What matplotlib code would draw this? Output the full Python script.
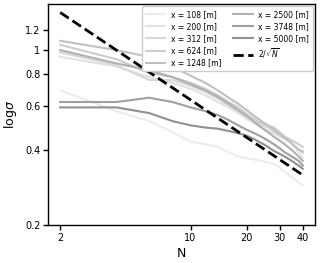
import numpy as np
import matplotlib
matplotlib.use("Agg")
import matplotlib.pyplot as plt
from matplotlib.ticker import FixedLocator, FixedFormatter, NullLocator

# number of samples N
N = [2, 4, 6, 8, 10, 12, 14, 16, 18, 20, 22, 24, 26, 28, 30, 32, 34, 36, 38, 40]

distances = [108, 200, 312, 624, 1248, 2500, 3748, 5000]

sig_108 = [0.69, 0.57, 0.52, 0.47, 0.43, 0.42, 0.41, 0.39, 0.375, 0.37,
           0.365, 0.36, 0.355, 0.35, 0.34, 0.325, 0.315, 0.305, 0.295, 0.288]
sig_200 = [0.94, 0.86, 0.78, 0.74, 0.70, 0.66, 0.62, 0.59, 0.56, 0.53,
           0.51, 0.49, 0.475, 0.465, 0.45, 0.44, 0.43, 0.41, 0.39, 0.37]
sig_312 = [0.98, 0.87, 0.76, 0.76, 0.72, 0.68, 0.64, 0.60, 0.57, 0.54,
           0.52, 0.50, 0.49, 0.47, 0.46, 0.45, 0.43, 0.415, 0.40, 0.395]
sig_624 = [1.05, 0.92, 0.81, 0.78, 0.74, 0.70, 0.66, 0.62, 0.59, 0.555,
           0.53, 0.51, 0.50, 0.49, 0.47, 0.45, 0.44, 0.43, 0.42, 0.41]
sig_1248 = [1.09, 1.00, 0.94, 0.86, 0.79, 0.74, 0.69, 0.645, 0.61, 0.575,
            0.545, 0.52, 0.50, 0.48, 0.46, 0.445, 0.43, 0.415, 0.40, 0.39]
sig_2500 = [1.00, 0.885, 0.83, 0.78, 0.73, 0.69, 0.65, 0.61, 0.575, 0.545,
            0.515, 0.49, 0.47, 0.45, 0.435, 0.42, 0.405, 0.39, 0.375, 0.36]
sig_3748 = [0.62, 0.62, 0.645, 0.62, 0.59, 0.57, 0.55, 0.525, 0.50, 0.48,
            0.465, 0.45, 0.435, 0.42, 0.405, 0.39, 0.38, 0.37, 0.36, 0.345]
sig_5000 = [0.59, 0.59, 0.56, 0.52, 0.50, 0.49, 0.485, 0.475, 0.465, 0.455,
            0.44, 0.425, 0.41, 0.395, 0.385, 0.375, 0.365, 0.355, 0.345, 0.335]

sigmas = [sig_108, sig_200, sig_312, sig_624, sig_1248, sig_2500, sig_3748, sig_5000]

N_ref = np.array([2, 40])

xticks = [2, 10, 20, 30, 40]
yticks = [0.2, 0.4, 0.6, 0.8, 1, 1.2]
ytick_labels = ["0.2", "0.4", "0.6", "0.8", "1", "1.2"]

fig = plt.figure(figsize=(3.2, 2.63), dpi=100)
ax = fig.add_axes([0.15, 0.145, 0.834, 0.84])

colors = plt.cm.Greys(np.linspace(0.15, 0.52, len(distances)))
for d, s, c in zip(distances, sigmas, colors):
    ax.plot(N, s, color=c, lw=1.5, label="x = %d [m]" % d)

ax.plot(N_ref, 2 / np.sqrt(N_ref), "k--", lw=2, label=r"$2/\sqrt{N}$")

ax.set_xscale("log")
ax.set_yscale("log")
ax.set_xlim(1.72, 46.4)
ax.set_ylim(0.2, 1.53)

ax.xaxis.set_major_locator(FixedLocator(xticks))
ax.xaxis.set_major_formatter(FixedFormatter([str(t) for t in xticks]))
ax.xaxis.set_minor_locator(NullLocator())
ax.yaxis.set_major_locator(FixedLocator(yticks))
ax.yaxis.set_major_formatter(FixedFormatter(ytick_labels))
ax.yaxis.set_minor_locator(NullLocator())
ax.tick_params(labelsize=7, length=3.5, width=1, pad=2)
for sp in ax.spines.values():
    sp.set_linewidth(1)

ax.set_xlabel("N", fontsize=9, labelpad=3)
ax.set_ylabel(r"log$\sigma$", fontsize=9, labelpad=4)

ax.legend(ncol=2, fontsize=5.5, loc="upper right", handlelength=2.5,
          columnspacing=1.6, labelspacing=0.4, borderaxespad=0.3,
          handletextpad=0.7, borderpad=0.5, framealpha=1)

fig.savefig("out.png", dpi=100)
